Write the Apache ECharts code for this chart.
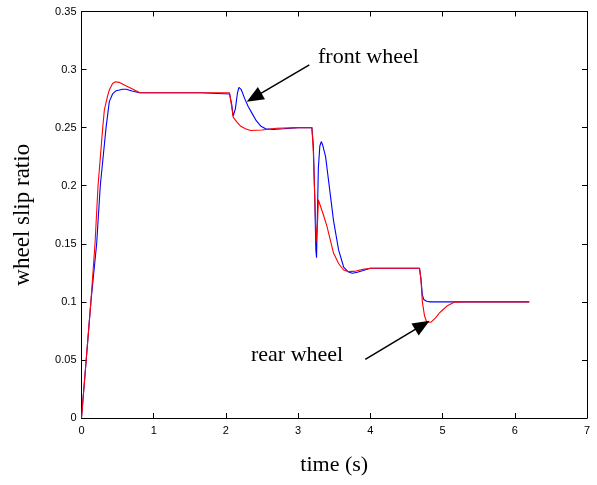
<!DOCTYPE html>
<html>
<head>
<meta charset="utf-8">
<script src="https://cdn.jsdelivr.net/npm/echarts@6/dist/echarts.min.js"></script>
<style>
html,body{margin:0;padding:0;background:#fff;}
#chart{width:597px;height:485px;}
</style>
</head>
<body>
<div id="chart"></div>
<script>
// front wheel (blue)
var frontT = [0,0.065,0.13,0.21,0.26,0.34,0.385,0.43,0.48,0.57,0.62,0.7,0.8,1.0,1.65,1.67,2.05,2.08,2.1,2.13,2.16,2.18,2.21,2.26,2.31,2.36,2.42,2.48,2.55,2.65,2.8,3.0,3.19,3.21,3.23,3.245,3.255,3.265,3.28,3.30,3.32,3.34,3.38,3.42,3.45,3.49,3.56,3.63,3.69,3.75,3.82,3.9,4.0,4.2,4.68,4.70,4.72,4.74,4.78,4.83,5.0,6.2];
var frontV = [0,0.05,0.1,0.15,0.2,0.25,0.2724,0.279,0.2818,0.283,0.283,0.2815,0.28,0.28,0.28,0.279,0.279,0.27,0.26,0.266,0.28,0.2847,0.283,0.275,0.268,0.2625,0.256,0.2515,0.249,0.2485,0.249,0.25,0.25,0.235,0.19,0.145,0.138,0.17,0.215,0.234,0.238,0.235,0.225,0.205,0.19,0.17,0.1447,0.130,0.126,0.1246,0.1255,0.127,0.129,0.129,0.129,0.12,0.106,0.102,0.1005,0.1,0.1,0.1];
// rear wheel (red)
var rearT = [0,0.065,0.13,0.187,0.229,0.294,0.316,0.36,0.385,0.43,0.47,0.52,0.6,0.7,0.81,1.0,2.05,2.08,2.1,2.15,2.2,2.27,2.34,2.5,2.7,3.0,3.19,3.21,3.23,3.25,3.27,3.28,3.30,3.35,3.40,3.45,3.49,3.56,3.63,3.7,3.8,3.9,4.0,4.68,4.70,4.72,4.75,4.78,4.80,4.84,4.9,4.95,5.0,5.06,5.16,5.3,6.2];
var rearV = [0,0.05,0.1,0.15,0.2,0.25,0.265,0.277,0.2824,0.288,0.2895,0.289,0.2865,0.2835,0.28,0.28,0.28,0.268,0.259,0.255,0.2515,0.249,0.2475,0.248,0.2495,0.25,0.25,0.23,0.19,0.152,0.17,0.188,0.184,0.175,0.1647,0.152,0.142,0.133,0.1274,0.126,0.1265,0.128,0.129,0.129,0.12,0.10,0.088,0.0825,0.081,0.0825,0.086,0.09,0.093,0.0964,0.0996,0.1,0.1];
var xTicks = [0,1,2,3,4,5,6,7];
var yTicks = [0,0.05,0.1,0.15,0.2,0.25,0.3,0.35];
var frontLabel = 'front wheel';
var rearLabel = 'rear wheel';
// annotation arrows in data coordinates [t, v]
var frontArrow = [[3.155,0.304],[2.39,0.276]];
var rearArrow = [[3.93,0.0505],[4.72,0.080]];

function zip(a,b){return a.map(function(x,i){return [x,b[i]];});}

var chart = echarts.init(document.getElementById('chart'), null, {renderer:'canvas'});
var labelFont = {fontFamily:'Liberation Sans', fontSize:11, color:'#000'};
var axisCommon = {
  type:'value', min:0,
  axisLine:{show:true,onZero:false,lineStyle:{color:'#000',width:1}},
  axisTick:{show:true,inside:true,length:5,lineStyle:{color:'#000'}},
  splitLine:{show:false}
};
function arrowLine(pts){
  return [{coord:pts[0],symbol:'none'},{coord:pts[1],symbol:'triangle',symbolSize:[14,17]}];
}
chart.setOption({
  animation:false,
  backgroundColor:'#fff',
  grid:{left:81.5,right:10,top:11.5,bottom:67,containLabel:false},
  xAxis:[
    Object.assign({},axisCommon,{max:7,interval:1,position:'bottom',
      axisLabel:Object.assign({margin:7,formatter:function(v){return xTicks.indexOf(v)>=0?String(v):'';}},labelFont),
      name:'time (s)',nameLocation:'middle',nameGap:36,
      nameTextStyle:{fontFamily:'Liberation Serif',fontSize:22,color:'#000'}}),
    Object.assign({},axisCommon,{max:7,interval:1,position:'top',axisLabel:{show:false}})
  ],
  yAxis:[
    Object.assign({},axisCommon,{max:0.35,interval:0.05,position:'left',
      axisLabel:Object.assign({margin:5,formatter:function(v){var r=Math.round(v*100)/100;return String(r);}},labelFont),
      name:'wheel slip ratio',nameLocation:'middle',nameGap:47,
      nameTextStyle:{fontFamily:'Liberation Serif',fontSize:23,color:'#000'}}),
    Object.assign({},axisCommon,{max:0.35,interval:0.05,position:'right',axisLabel:{show:false}})
  ],
  series:[
    {type:'line',name:'front',data:zip(frontT,frontV),showSymbol:false,symbol:'none',
     lineStyle:{color:'#0000ff',width:1.1},itemStyle:{color:'#0000ff'},z:2,
     markLine:{silent:true,animation:false,label:{show:false},lineStyle:{color:'#000',width:1.5,type:'solid'},
       data:[arrowLine(frontArrow),arrowLine(rearArrow)]}},
    {type:'line',name:'rear',data:zip(rearT,rearV),showSymbol:false,symbol:'none',
     lineStyle:{color:'#ff0000',width:1.1},itemStyle:{color:'#ff0000'},z:3}
  ],
  graphic:[
    {type:'text',left:318,top:46,style:{text:frontLabel,font:'22px "Liberation Serif"',fill:'#000'}},
    {type:'text',left:251,top:344,style:{text:rearLabel,font:'22px "Liberation Serif"',fill:'#000'}}
  ]
});
</script>
</body>
</html>
